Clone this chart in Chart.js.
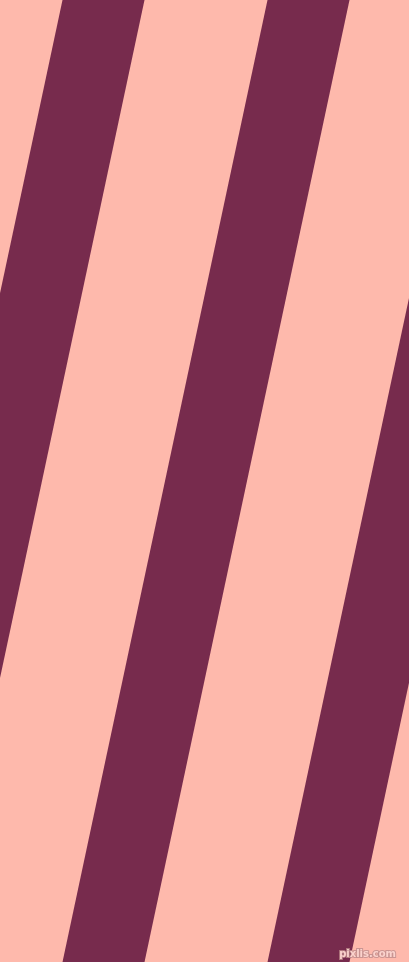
<!DOCTYPE html>
<html>
<head>
<meta charset="utf-8">
<script src="https://cdn.jsdelivr.net/npm/chart.js@4"></script>
<style>
  html, body { margin: 0; padding: 0; background: #feb9ac; overflow: hidden; }
  #stripes { display: block; }
</style>
</head>
<body>
<canvas id="stripes" width="409" height="962"></canvas>
<script>
// edge positions (x) of each stripe, read at the top (y=0) and bottom (y=962)
const edgeY = [0, 962];
const leftTop = [62.5, 267.5, 472.5];
const rightTop = [144.5, 349.5, 554.5];
const leftBottom = [-142.5, 62.5, 267.5];
const rightBottom = [-60.5, 144.5, 349.5];

const stripeColor = "#772b4d";
const backColor = "#feb9ac";

document.addEventListener("DOMContentLoaded", function () {
    const ctx = document.getElementById("stripes").getContext("2d");

    const datasets = [];
    leftTop.forEach(function (lt, i) {
        datasets.push({
            label: "left " + (i + 1),
            data: [{ x: lt, y: edgeY[0] }, { x: leftBottom[i], y: edgeY[1] }],
            borderWidth: 0,
            pointRadius: 0,
            fill: false,
        });
        datasets.push({
            label: "right " + (i + 1),
            data: [{ x: rightTop[i], y: edgeY[0] }, { x: rightBottom[i], y: edgeY[1] }],
            borderWidth: 0,
            pointRadius: 0,
            backgroundColor: stripeColor,
            fill: "-1",
        });
    });

    // small site mark in the bottom right corner
    const watermark = {
        id: "watermark",
        afterDraw: function (chart) {
            const c = chart.ctx;
            c.save();
            c.font = "bold 10px 'DejaVu Sans'";
            c.textAlign = "right";
            c.textBaseline = "alphabetic";
            c.lineWidth = 2;
            c.strokeStyle = "rgba(190, 140, 140, 0.8)";
            c.strokeText("pixlis.com", 396, 957);
            c.fillStyle = "#fbd3cd";
            c.fillText("pixlis.com", 396, 957);
            c.restore();
        },
    };

    new Chart(ctx, {
        type: "line",
        data: { datasets: datasets },
        options: {
            responsive: false,
            animation: false,
            indexAxis: "y",
            layout: { padding: 0 },
            plugins: {
                legend: { display: false },
                tooltip: { enabled: false },
            },
            scales: {
                x: { type: "linear", display: false, min: 0, max: 409 },
                y: { type: "linear", display: false, min: 0, max: 962, reverse: true },
            },
        },
        plugins: [watermark],
    });
});
</script>
</body>
</html>
